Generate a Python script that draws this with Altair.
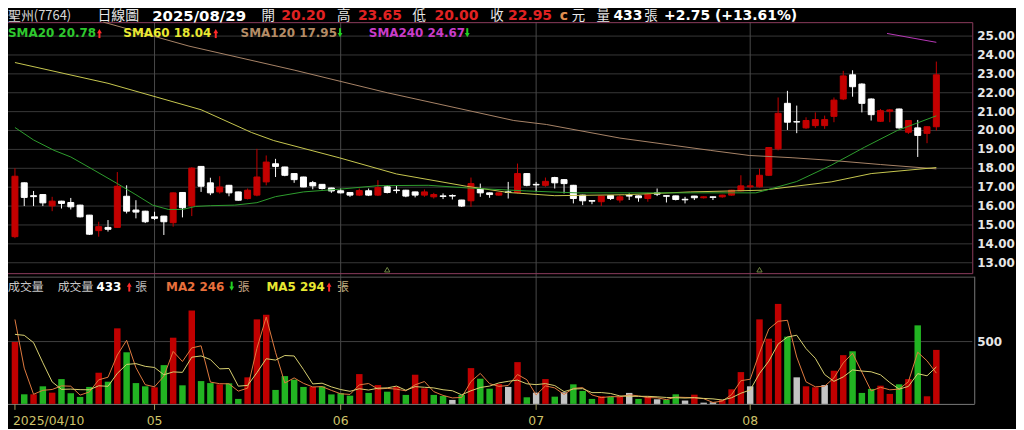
import altair as alt
import pandas as pd

# ---------------- data ----------------
opens = [14.38, 17.23, 16.55, 16.61, 16.01, 16.26, 16.19, 16.05, 15.52, 14.70,
         14.87, 14.87, 16.52, 15.79, 15.73, 15.43, 15.47, 15.12, 16.72, 16.01,
         18.10, 17.23, 16.75, 17.10, 16.75, 16.40, 16.58, 17.28, 18.24, 18.07,
         17.72, 17.54, 17.24, 17.15, 16.96, 16.81, 16.72, 16.58, 16.81, 16.58,
         17.02, 16.85, 16.84, 16.75, 16.58, 16.49, 16.54, 16.56, 16.32, 16.28,
         16.93, 16.70, 16.58, 16.75, 16.72, 17.72, 17.15, 17.10, 17.51, 17.40,
         17.10, 16.58, 16.29, 16.23, 16.56, 16.32, 16.56, 16.54, 16.40, 16.70,
         16.55, 16.54, 16.36, 16.53, 16.44, 16.49, 16.49, 16.58, 16.81, 17.02,
         17.02, 17.63, 19.03, 21.44, 20.47, 20.14, 20.26, 20.26, 20.75, 21.67,
         22.95, 22.46, 21.67, 20.49, 21.02, 21.14, 19.91, 20.14, 19.85, 20.20]
highs = [18.00, 17.25, 16.80, 16.63, 16.49, 16.28, 16.43, 16.07, 15.53, 15.17,
         15.26, 17.80, 17.10, 16.31, 15.75, 15.70, 15.48, 16.72, 16.74, 18.05,
         18.12, 17.50, 17.58, 17.12, 16.76, 16.93, 19.03, 18.68, 18.50, 18.08,
         17.73, 17.55, 17.33, 17.16, 16.97, 16.93, 16.73, 16.93, 16.93, 17.37,
         17.10, 17.10, 16.86, 16.76, 16.88, 16.70, 16.67, 16.62, 16.33, 17.51,
         17.19, 16.72, 16.72, 17.28, 18.25, 17.75, 17.28, 17.51, 17.55, 17.42,
         17.12, 16.60, 16.30, 16.55, 16.57, 16.58, 16.67, 16.56, 16.70, 16.93,
         16.56, 16.55, 16.49, 16.54, 16.52, 16.50, 16.60, 16.86, 17.63, 17.35,
         17.98, 19.12, 21.75, 22.10, 21.32, 20.70, 20.96, 20.79, 21.75, 23.16,
         23.19, 22.50, 21.70, 21.14, 21.14, 21.16, 20.55, 20.56, 20.22, 23.65]
lows = [14.30, 16.00, 16.00, 16.00, 15.73, 15.87, 15.82, 15.40, 14.47, 14.38,
        14.65, 14.85, 15.61, 15.35, 15.10, 15.26, 14.47, 14.91, 15.40, 15.47,
        16.75, 16.58, 16.66, 16.52, 16.29, 16.35, 16.52, 17.10, 17.54, 17.58,
        17.23, 17.00, 16.89, 16.88, 16.70, 16.67, 16.49, 16.53, 16.53, 16.53,
        16.67, 16.67, 16.47, 16.46, 16.49, 16.40, 16.37, 16.35, 15.95, 15.96,
        16.49, 16.44, 16.55, 16.40, 16.67, 17.05, 16.75, 17.02, 16.93, 16.67,
        16.14, 16.05, 16.10, 16.00, 16.32, 16.18, 16.32, 16.23, 16.23, 16.53,
        16.19, 16.30, 16.14, 16.32, 16.40, 16.32, 16.44, 16.55, 16.78, 16.95,
        16.98, 17.60, 18.95, 20.03, 19.86, 20.09, 20.14, 20.09, 20.44, 21.61,
        21.79, 20.96, 20.53, 20.45, 20.44, 20.10, 19.82, 18.60, 19.33, 20.00]
closes = [17.58, 16.46, 16.50, 16.17, 16.26, 16.14, 15.96, 15.43, 14.51, 14.91,
          14.77, 17.05, 15.73, 15.68, 15.17, 15.35, 15.17, 16.70, 15.91, 18.01,
          17.05, 16.70, 17.01, 16.70, 16.31, 16.84, 17.54, 18.33, 18.10, 17.63,
          17.40, 17.01, 17.07, 16.93, 16.80, 16.70, 16.58, 16.82, 16.58, 16.98,
          16.72, 16.82, 16.53, 16.58, 16.75, 16.61, 16.51, 16.53, 16.00, 17.19,
          16.70, 16.61, 16.70, 16.72, 17.72, 17.10, 17.12, 17.31, 17.23, 17.19,
          16.40, 16.28, 16.26, 16.53, 16.40, 16.49, 16.53, 16.44, 16.63, 16.63,
          16.52, 16.35, 16.33, 16.44, 16.49, 16.46, 16.58, 16.84, 17.07, 17.07,
          17.63, 19.10, 20.91, 20.44, 20.45, 20.53, 20.58, 20.58, 21.61, 22.89,
          22.32, 21.44, 20.84, 21.05, 21.09, 20.14, 20.53, 19.74, 20.20, 22.95]

volumes = [497, 77, 77, 141, 90, 199, 85, 56, 136, 250,
           178, 606, 414, 167, 141, 133, 311, 531, 149, 749,
           183, 167, 157, 165, 40, 213, 678, 715, 112, 223,
           194, 136, 136, 141, 76, 86, 66, 239, 88, 151,
           98, 138, 72, 234, 125, 72, 64, 32, 72, 287,
           202, 122, 159, 136, 335, 53, 90, 199, 58, 93,
           157, 104, 40, 61, 56, 58, 88, 40, 61, 37,
           32, 77, 27, 74, 10, 13, 32, 117, 255, 141,
           678, 523, 802, 539, 213, 141, 133, 151, 266, 391,
           422, 88, 120, 146, 80, 157, 199, 630, 61, 433]
vol_dir = list("rgrgrggggr" "grgggrgrgr" "ggrggrrrgg" "ggrggggrgr"
               "grgrrggngr" "ggrnrgnrgn" "gggrgrngrn" "ggnrnnrrrn"
               "rrrgnrrnrr" "gggrrgrgrr")
vol_prev = [117, 370, 949, 857]   # the days just before the window (feed the MA lines)

sma20_i = [0, 2, 4.2, 6, 8.5, 11, 13, 14.8, 16.5, 18, 19.4, 21, 23.6, 26, 28, 31, 35,
           39, 44.4, 48.6, 55, 60.3, 69, 79.6, 80.7, 84, 87.7, 91.3, 94.8, 99]
sma20_v = [20.16, 19.5, 18.95, 18.6, 17.9, 17.19, 16.6, 16.05, 15.82, 15.82, 15.98, 16.02,
           16.05, 16.18, 16.5, 16.75, 16.9, 17.08, 17.1, 16.96, 16.8, 16.7, 16.7, 16.7,
           16.84, 17.3, 18.16, 19.12, 20.0, 20.78]
sma60_i = [0, 10, 20, 25.4, 27.8, 34.9, 41, 48.5, 53, 58, 65.5, 72.6, 80.3, 87.7, 92, 99]
sma60_v = [23.6, 22.5, 21.1, 19.9, 19.47, 18.55, 17.7, 17.05, 16.72, 16.55, 16.6, 16.75,
           16.84, 17.28, 17.72, 18.04]
sma120_i = [9.5, 18.7, 30, 40, 53.6, 57.1, 65, 74.7, 78.9, 83.5, 87.7, 93, 99]
sma120_v = [25.74, 24.47, 23.2, 22.0, 20.53, 20.32, 19.6, 18.95, 18.68, 18.56, 18.42, 18.2, 17.97]
sma240_i = [93.7, 99]
sma240_v = [25.14, 24.67]

price_ticks = [13, 14, 15, 16, 17, 18, 19, 20, 21, 22, 23, 24, 25]
vol_ticks = [500]
month_idx = [0, 15, 35, 56, 79]
month_lbl = ["2025/04/10", "05", "06", "07", "08"]
grid_months = [15, 35, 56, 79]
marker_idx = [40, 80]

# ---------------- layout ----------------
W, H = 970, 384
LAT = "DejaVu Sans"
CJK = "Noto Sans CJK TC"

xs = alt.Scale(domain=[-0.2114, 102.326], nice=False, zero=False)
ys = alt.Scale(domain=[5.5263, 25.7368], nice=False, zero=False)
yv = alt.Scale(domain=[0, 3062], nice=False, zero=False)
X = alt.X("i:Q", scale=xs, axis=None)

one = pd.DataFrame({"a": [0]})
layers = []

# grid
layers.append(alt.Chart(pd.DataFrame({"p": price_ticks})).mark_rule(color="#383838", strokeWidth=1)
              .encode(y=alt.Y("p:Q", scale=ys, axis=None), x=alt.value(0), x2=alt.value(W)))
layers.append(alt.Chart(pd.DataFrame({"i": grid_months})).mark_rule(color="#4a4a4a", strokeWidth=1)
              .encode(x=X, y=alt.value(0), y2=alt.value(H)))
layers.append(alt.Chart(pd.DataFrame({"v": vol_ticks})).mark_rule(color="#404040", strokeWidth=1)
              .encode(y=alt.Y("v:Q", scale=yv, axis=None), x=alt.value(0), x2=alt.value(W)))
# frames
layers.append(alt.Chart(one).mark_rect(fillOpacity=0, stroke="#8c3c5e", strokeWidth=1)
              .encode(x=alt.value(-3), x2=alt.value(W + 0.5), y=alt.value(0.5), y2=alt.value(253)))
layers.append(alt.Chart(one).mark_rule(color="#5a5a5a", strokeWidth=1)
              .encode(x=alt.value(0), x2=alt.value(W + 2), y=alt.value(256.5)))
layers.append(alt.Chart(one).mark_rule(color="#7a7a7a", strokeWidth=1)
              .encode(x=alt.value(W + 2.5), y=alt.value(256), y2=alt.value(H)))
layers.append(alt.Chart(one).mark_rule(color="#7a7a7a", strokeWidth=1)
              .encode(x=alt.value(0), x2=alt.value(W + 2.5), y=alt.value(H + 0.5)))
layers.append(alt.Chart(pd.DataFrame({"i": month_idx})).mark_rule(color="#a09a60", strokeWidth=1)
              .encode(x=X, y=alt.value(H), y2=alt.value(H + 6)))

# candles
candles = pd.DataFrame({"i": list(range(len(opens))), "o": opens, "h": highs, "l": lows, "c": closes})
cb = alt.Chart(candles).transform_calculate(col="datum.c >= datum.o ? '#c40000' : '#ffffff'")
layers.append(cb.mark_rule(strokeWidth=1).encode(
    x=X, y=alt.Y("l:Q", scale=ys, axis=None), y2="h:Q", color=alt.Color("col:N", scale=None)))
layers.append(cb.mark_bar(size=6, strokeWidth=1).encode(
    x=X, y=alt.Y("o:Q", scale=ys, axis=None), y2="c:Q",
    color=alt.Color("col:N", scale=None), stroke=alt.Stroke("col:N", scale=None)))

# moving averages on price
for xi, yvv, colr in [(sma120_i, sma120_v, "#a88468"), (sma60_i, sma60_v, "#c8c850"),
                      (sma20_i, sma20_v, "#2e9e2e"), (sma240_i, sma240_v, "#b838b8")]:
    layers.append(alt.Chart(pd.DataFrame({"i": xi, "m": yvv})).mark_line(color=colr, strokeWidth=1)
                  .encode(x=X, y=alt.Y("m:Q", scale=ys, axis=None)))

# volume
vol_df = pd.DataFrame({"i": list(range(-len(vol_prev), len(volumes))),
                       "v": vol_prev + volumes,
                       "d": ["n"] * len(vol_prev) + vol_dir})
vb = (alt.Chart(vol_df)
      .transform_window(ma2="mean(v)", frame=[-1, 0], sort=[alt.SortField("i")])
      .transform_window(ma5="mean(v)", frame=[-4, 0], sort=[alt.SortField("i")])
      .transform_filter("datum.i >= 0")
      .transform_calculate(col="datum.d == 'r' ? '#c00000' : (datum.d == 'g' ? '#22b422' : '#c4c4c4')"))
layers.append(vb.mark_bar(size=6.5).encode(
    x=X, y=alt.Y("v:Q", scale=yv, axis=None), color=alt.Color("col:N", scale=None)))
layers.append(vb.mark_line(color="#e07a40", strokeWidth=1).encode(x=X, y=alt.Y("ma2:Q", scale=yv, axis=None)))
layers.append(vb.mark_line(color="#d8d070", strokeWidth=1).encode(x=X, y=alt.Y("ma5:Q", scale=yv, axis=None)))

# small markers at bottom of price panel
layers.append(alt.Chart(pd.DataFrame({"i": marker_idx})).mark_point(
    shape="triangle-up", size=28, filled=False, color="#9ec060", strokeWidth=1)
    .encode(x=X, y=alt.value(249)))

# axis labels
layers.append(alt.Chart(pd.DataFrame({"p": price_ticks})).mark_text(
    align="left", baseline="middle", font=LAT, fontSize=12, fontWeight="bold", color="#e6e6e6")
    .encode(x=alt.value(975), y=alt.Y("p:Q", scale=ys, axis=None), text=alt.Text("p:Q", format=".2f")))
layers.append(alt.Chart(pd.DataFrame({"v": vol_ticks})).mark_text(
    align="left", baseline="middle", font=LAT, fontSize=12, fontWeight="bold", color="#e6e6e6")
    .encode(x=alt.value(975), y=alt.Y("v:Q", scale=yv, axis=None), text="v:Q"))
mdf = pd.DataFrame({"i": month_idx, "lbl": month_lbl})
layers.append(alt.Chart(mdf).transform_filter("datum.i == 0").mark_text(
    align="left", baseline="middle", font=LAT, fontSize=12.5, color="#cfc26a", dx=-2)
    .encode(x=X, y=alt.value(401), text="lbl:N"))
layers.append(alt.Chart(mdf).transform_filter("datum.i > 0").mark_text(
    align="center", baseline="middle", font=LAT, fontSize=12.5, color="#cfc26a")
    .encode(x=X, y=alt.value(401), text="lbl:N"))


def txt(s, px, py, color, size=12, bold=False, font=LAT, align="left"):
    return alt.Chart(one).mark_text(
        text=s, align=align, baseline="middle", font=font, fontSize=size,
        fontWeight="bold" if bold else "normal", color=color
    ).encode(x=alt.value(px - 8), y=alt.value(py - 21))


def arrow(px, py, up, color):
    lx, ly = px - 8, py - 21
    head = alt.Chart(one).mark_point(
        shape="triangle-up" if up else "triangle-down", filled=True, size=24, color=color, opacity=1
    ).encode(x=alt.value(lx), y=alt.value(ly - 2 if up else ly + 2))
    stem = alt.Chart(one).mark_rule(color=color, strokeWidth=2).encode(
        x=alt.value(lx), y=alt.value(ly - 1 if up else ly - 5), y2=alt.value(ly + 5 if up else ly + 1))
    return [stem, head]


RED = "#e02222"
UPR = "#ff2a2a"
DNG = "#22d022"
HY = 15
hdr = [
    ("聖州(7764)", 8, HY, "#d8d8d8", 13, False, CJK),
    ("日線圖", 98, HY, "#e8e8e8", 14, False, CJK),
    ("2025/08/29", 153, HY, "#ffffff", 15, True, LAT),
    ("開", 263, HY, "#e8e8e8", 13.5, False, CJK),
    ("20.20", 283, HY, RED, 14, True, LAT),
    ("高", 339, HY, "#e8e8e8", 13.5, False, CJK),
    ("23.65", 360, HY, RED, 14, True, LAT),
    ("低", 415, HY, "#e8e8e8", 13.5, False, CJK),
    ("20.00", 437, HY, RED, 14, True, LAT),
    ("收", 493, HY, "#e8e8e8", 13.5, False, CJK),
    ("22.95", 511, HY, RED, 14, True, LAT),
    ("c", 563, HY, "#e09050", 14, True, LAT),
    ("元", 575, HY, "#e8e8e8", 13.5, False, CJK),
    ("量", 600, HY, "#e8e8e8", 13.5, False, CJK),
    ("433", 617, HY, "#ffffff", 14, True, LAT),
    ("張", 648, HY, "#e8e8e8", 13.5, False, CJK),
    ("+2.75 (+13.61%)", 668, HY, "#ffffff", 14, True, LAT),
    # price legend
    ("SMA20 20.78", 8, 32, "#2ec82e", 12, True, LAT),
    ("SMA60 18.04", 124, 32, "#e8e832", 12, True, LAT),
    ("SMA120 17.95", 242, 32, "#b48c66", 12, True, LAT),
    ("SMA240 24.67", 371, 32, "#c83cc8", 12, True, LAT),
    # volume legend
    ("成交量", 8, 287, "#c8c8c8", 12, False, CJK),
    ("成交量", 58, 287, "#c8c8c8", 12, False, CJK),
    ("433", 97, 287, "#ffffff", 12, True, LAT),
    ("張", 136, 287, "#b8b8b8", 12, False, CJK),
    ("MA2 246", 167, 287, "#e8703c", 12, True, LAT),
    ("張", 239, 287, "#c0a080", 12, False, CJK),
    ("MA5 294", 268, 287, "#e8e832", 12, True, LAT),
    ("張", 339, 287, "#c0b080", 12, False, CJK),
]
for h in hdr:
    layers.append(txt(*h))

for px, py, up, colr in [(100, 32, True, UPR), (217, 32, True, UPR), (342, 32, False, DNG),
                         (470, 32, False, DNG), (130, 287, True, UPR), (233, 287, False, DNG),
                         (331, 287, True, UPR)]:
    layers.extend(arrow(px, py, up, colr))

chart = (alt.layer(*layers)
         .resolve_scale(y="independent")
         .properties(width=W, height=H, background="#000000",
                     autosize=alt.AutoSizeParams(type="none"),
                     padding={"left": 0, "top": 13, "right": 44, "bottom": 24})
         .configure_view(stroke=None))

chart.save("out.html", embed_options={"renderer": "svg", "actions": False})
